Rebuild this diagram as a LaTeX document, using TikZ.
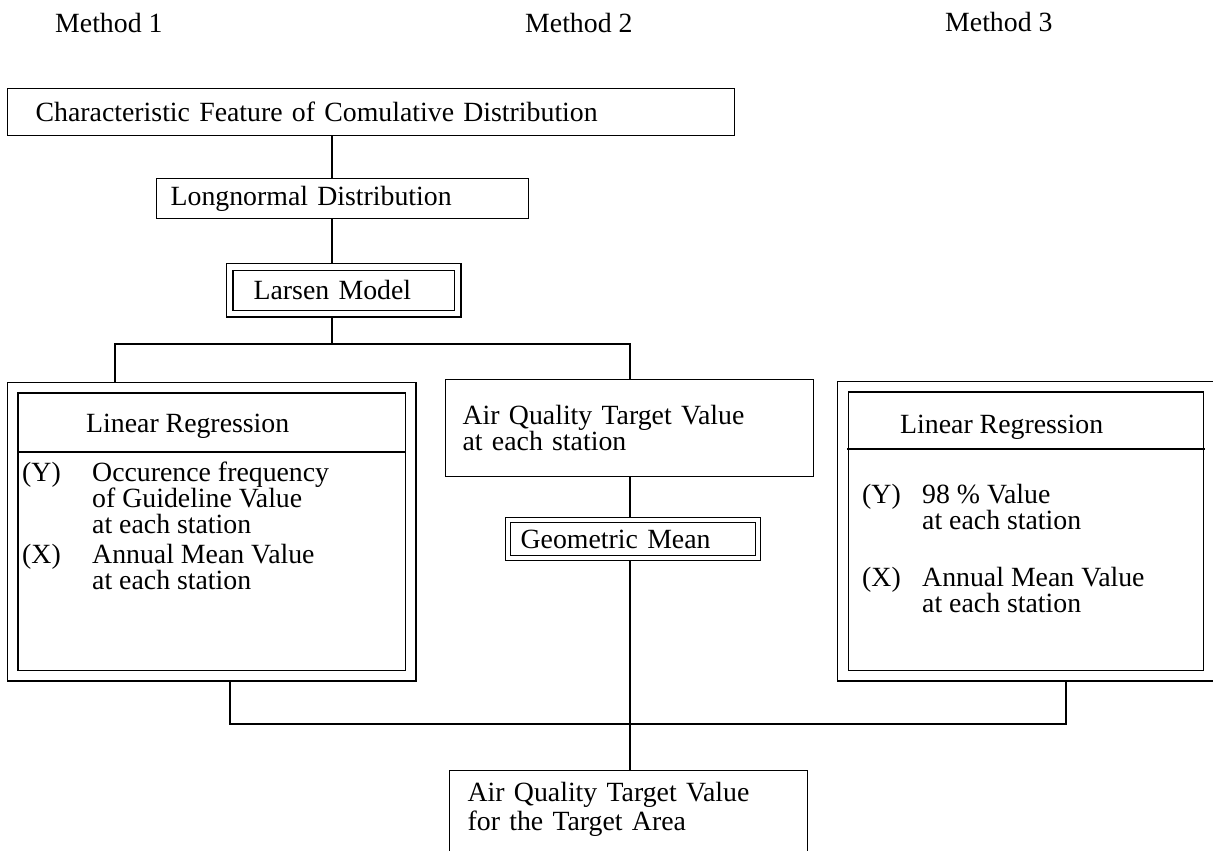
\documentclass[tikz,border=0pt]{standalone}
\usepackage{fontspec}
\setmainfont{Liberation Serif}
\usetikzlibrary{backgrounds}
\newcommand{\fsz}{\fontsize{27.8}{26}\selectfont}
\newcommand{\fszwide}{\fontsize{27.8}{29}\selectfont}
\begin{document}
\begin{tikzpicture}[x=1pt,y=-1pt,
  every node/.style={font=\fsz},
  box/.style={draw, line width=1.3pt, anchor=north west, align=left, inner ysep=0pt},
  dbox/.style={draw, double, double distance=#1, line width=1.3pt, anchor=north west, align=left, inner ysep=0pt},
  conn/.style={line width=1.3pt},
  lbl/.style={inner sep=0pt, anchor=base west},
  divider/.style={line width=1.3pt}]
\useasboundingbox (0,0) rectangle (1213,851);

% method labels
\node[lbl] (m1) at (55,33) {Method 1};
\node[lbl] (m2) at (525,33) {Method 2};
\node[lbl] (m3) at (945,32) {Method 3};

% top chain
\node[box, text height=19pt, text depth=0pt, minimum width=727pt, minimum height=47pt, text width=671pt, inner xsep=28pt] (feat) at (7,88) {Characteristic Feature of Comulative Distribution};
\node[box, text height=19pt, text depth=6pt, minimum width=372pt, minimum height=40pt, text width=344pt, inner xsep=14pt] (logn) at (156,178) {Longnormal Distribution};
\node[dbox=5.5pt, text height=19pt, text depth=0pt, minimum width=228pt, minimum height=46.5pt, text width=180pt, inner xsep=24pt] (larsen) at (229,266.5) {Larsen Model};

% method 1 box
\node[dbox=9.5pt, minimum width=398pt, minimum height=288pt, inner sep=0pt] (lbox) at (12,387) {};
\draw[divider] (17,452) -- (405,452);
\node[lbl] (lhead) at (86,432) {Linear Regression};
\node[lbl] (ly) at (22,481) {(Y)};
\node[lbl] (ly1) at (92,481) {Occurence frequency};
\node[lbl] (ly2) at (92,507) {of Guideline Value};
\node[lbl] (ly3) at (92,533) {at each station};
\node[lbl] (lx) at (22,563) {(X)};
\node[lbl] (lx1) at (92,563) {Annual Mean Value};
\node[lbl] (lx2) at (92,589) {at each station};

% method 2
\node[box, minimum width=368pt, minimum height=97pt, text width=334pt, inner xsep=17pt] (mid) at (445,379) {Air Quality Target Value\\at each station};
\node[dbox=3.7pt, text height=19pt, text depth=0pt, minimum width=250pt, minimum height=38pt, text width=225pt, inner xsep=12.5pt] (geo) at (507.5,519.5) {Geometric Mean};

% method 3 box
\node[dbox=9.5pt, minimum width=366pt, minimum height=289pt, inner sep=0pt] (rbox) at (842.5,386) {};
\draw[divider] (847,449) -- (1205,449);
\node[lbl] (rhead) at (900,433) {Linear Regression};
\node[lbl] (ry) at (862,503) {(Y)};
\node[lbl] (ry1) at (922,503) {98 \% Value};
\node[lbl] (ry2) at (922,529) {at each station};
\node[lbl] (rx) at (862,586) {(X)};
\node[lbl] (rx1) at (922,586) {Annual Mean Value};
\node[lbl] (rx2) at (922,612) {at each station};

% result box (runs off the bottom edge)
\node[box, font=\fszwide, minimum width=358pt, text width=322pt, inner xsep=18pt, inner ysep=12pt, text depth=80pt] (bot) at (449,770) {Air Quality Target Value\\for the Target Area};

\begin{pgfonlayer}{background}
\coordinate (sp) at (332,0);
\coordinate (sp2) at (630,0);
\coordinate (b1L) at (115,344);
\coordinate (b1R) at (630,344);
\coordinate (b2L) at (230,724);
\coordinate (b2R) at (1066,724);
\draw[conn] (feat.south -| sp) -- (logn.north -| sp);
\draw[conn] (logn.south -| sp) -- (larsen.north -| sp);
\draw[conn] (larsen.south -| sp) -- (sp |- b1L);
\draw[conn] (lbox.north -| b1L) -- (b1L) -- (b1R) -- (mid.north -| b1R);
\draw[conn] (mid.south -| sp2) -- (geo.north -| sp2);
\draw[conn] (geo.south -| sp2) -- (bot.north -| sp2);
\draw[conn] (lbox.south -| b2L) -- (b2L) -- (b2R) -- (rbox.south -| b2R);
\end{pgfonlayer}
\end{tikzpicture}
\end{document}
